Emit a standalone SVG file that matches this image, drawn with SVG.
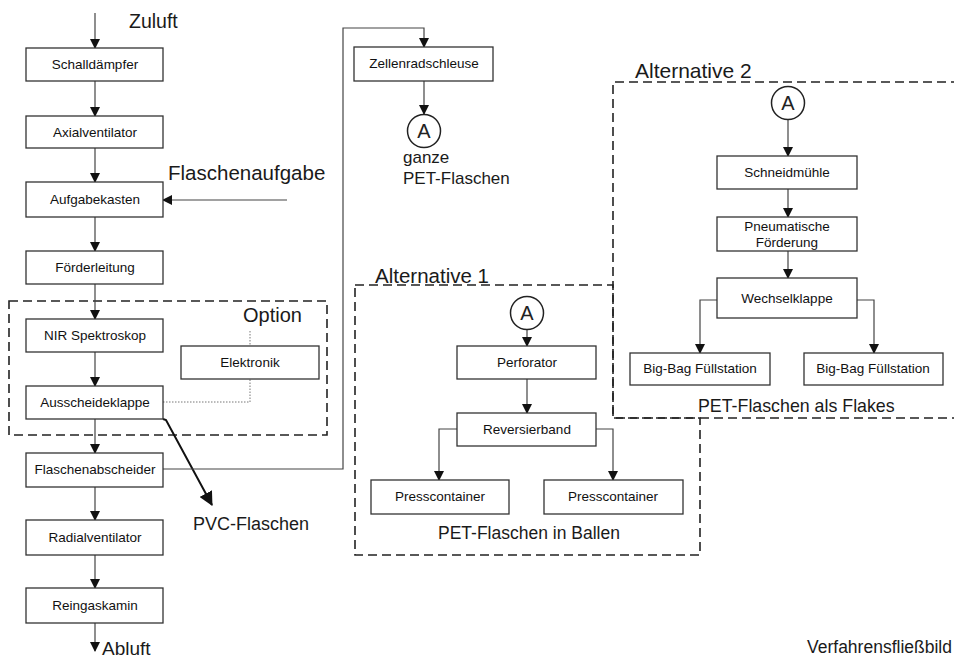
<svg xmlns="http://www.w3.org/2000/svg" width="954" height="659" viewBox="0 0 954 659">
<style>
.box{fill:#fff;stroke:#333;stroke-width:1.3}
.bt{font-family:"Liberation Sans",Arial,sans-serif;font-size:13.5px;fill:#111;text-anchor:middle}
.lbl{font-family:"Liberation Sans",Arial,sans-serif;font-size:18px;fill:#1a1a1a}
.ln{fill:none;stroke:#444;stroke-width:1.2}
.dash{fill:none;stroke:#222;stroke-width:1.6;stroke-dasharray:9,5}
.dot{fill:none;stroke:#777;stroke-width:1;stroke-dasharray:1.5,1.5}
.circ{fill:#fff;stroke:#222;stroke-width:1.5}
.ct{font-family:"Liberation Sans",Arial,sans-serif;font-size:20px;fill:#222;text-anchor:middle}
</style>
<defs>
<marker id="ah" markerWidth="10" markerHeight="10" refX="9" refY="5" orient="auto" markerUnits="userSpaceOnUse">
<path d="M0,0 L10,5 L0,10 z" fill="#111"/>
</marker>
<marker id="ahb" markerWidth="14" markerHeight="14" refX="13" refY="7" orient="auto" markerUnits="userSpaceOnUse">
<path d="M0,0 L14,7 L0,14 z" fill="#111"/>
</marker>
</defs>
<rect width="954" height="659" fill="#fff"/>

<g id="groups">
<rect class="dash" x="9" y="301" width="318" height="134"/>
<path class="dash" d="M355,285 L613,285 L613,418 L700,418 L700,555 L355,555 Z"/>
<path class="dash" d="M960,82 L613,82 L613,418 L960,418"/>
</g>

<g id="connectors">
<line class="ln" x1="95" y1="13" x2="95" y2="48" marker-end="url(#ah)"/>
<line class="ln" x1="95" y1="81" x2="95" y2="116" marker-end="url(#ah)"/>
<line class="ln" x1="95" y1="148" x2="95" y2="182" marker-end="url(#ah)"/>
<line class="ln" x1="287" y1="200" x2="163" y2="200" marker-end="url(#ah)"/>
<line class="ln" x1="95" y1="217" x2="95" y2="251" marker-end="url(#ah)"/>
<line class="ln" x1="95" y1="284" x2="95" y2="319" marker-end="url(#ah)"/>
<line class="ln" x1="95" y1="352" x2="95" y2="386" marker-end="url(#ah)"/>
<line class="ln" x1="95" y1="419" x2="95" y2="453" marker-end="url(#ah)"/>
<line class="ln" x1="95" y1="487" x2="95" y2="520" marker-end="url(#ah)"/>
<line class="ln" x1="95" y1="555" x2="95" y2="588" marker-end="url(#ah)"/>
<line class="ln" x1="95" y1="623" x2="95" y2="651" marker-end="url(#ah)"/>
<path d="M163,419 L166,420 L212,505" fill="none" stroke="#111" stroke-width="2" marker-end="url(#ahb)"/>
<path class="dot" d="M163,402 L250,402 L250,379"/>
<path class="dot" d="M250,331 L250,346"/>
<path class="ln" d="M163,469 L343,469 L343,28 L424,28 L424,47" marker-end="url(#ah)"/>
<line class="ln" x1="424" y1="81" x2="424" y2="114" marker-end="url(#ah)"/>
<line class="ln" x1="527" y1="330" x2="527" y2="346" marker-end="url(#ah)"/>
<line class="ln" x1="527" y1="379" x2="527" y2="413" marker-end="url(#ah)"/>
<path class="ln" d="M457,429 L439,429 L439,480" marker-end="url(#ah)"/>
<path class="ln" d="M596,429 L613,429 L613,480" marker-end="url(#ah)"/>
<line class="ln" x1="788" y1="120" x2="788" y2="156" marker-end="url(#ah)"/>
<line class="ln" x1="788" y1="189" x2="788" y2="217" marker-end="url(#ah)"/>
<line class="ln" x1="788" y1="251" x2="788" y2="278" marker-end="url(#ah)"/>
<path class="ln" d="M717,300 L700,300 L700,353" marker-end="url(#ah)"/>
<path class="ln" d="M857,300 L874,300 L874,353" marker-end="url(#ah)"/>
</g>

<g id="n-schalldaempfer"><rect class="box" x="26" y="48" width="137" height="33"/><text class="bt" x="95" y="69">Schalldämpfer</text></g>
<g id="n-axialventilator"><rect class="box" x="26" y="116" width="137" height="32"/><text class="bt" x="95" y="137">Axialventilator</text></g>
<g id="n-aufgabekasten"><rect class="box" x="26" y="182" width="137" height="35"/><text class="bt" x="95" y="204">Aufgabekasten</text></g>
<g id="n-foerderleitung"><rect class="box" x="26" y="251" width="137" height="33"/><text class="bt" x="95" y="272">Förderleitung</text></g>
<g id="n-nir"><rect class="box" x="26" y="319" width="137" height="33"/><text class="bt" x="95" y="340">NIR Spektroskop</text></g>
<g id="n-elektronik"><rect class="box" x="181" y="346" width="138" height="33"/><text class="bt" x="250" y="367">Elektronik</text></g>
<g id="n-ausscheideklappe"><rect class="box" x="26" y="386" width="137" height="33"/><text class="bt" x="95" y="407">Ausscheideklappe</text></g>
<g id="n-flaschenabscheider"><rect class="box" x="26" y="453" width="137" height="34"/><text class="bt" x="95" y="474">Flaschenabscheider</text></g>
<g id="n-radialventilator"><rect class="box" x="26" y="520" width="137" height="35"/><text class="bt" x="95" y="542">Radialventilator</text></g>
<g id="n-reingaskamin"><rect class="box" x="26" y="588" width="137" height="35"/><text class="bt" x="95" y="610">Reingaskamin</text></g>

<g id="n-zellenradschleuse"><rect class="box" x="354" y="47" width="139" height="34"/><text class="bt" x="424" y="68">Zellenradschleuse</text></g>
<g id="n-a0"><circle class="circ" cx="424" cy="131" r="16.5"/><text class="ct" x="424" y="138">A</text></g>

<g id="n-a1"><circle class="circ" cx="527" cy="313" r="16.5"/><text class="ct" x="527" y="320">A</text></g>
<g id="n-perforator"><rect class="box" x="457" y="346" width="139" height="33"/><text class="bt" x="527" y="367">Perforator</text></g>
<g id="n-reversierband"><rect class="box" x="457" y="413" width="139" height="33"/><text class="bt" x="527" y="434">Reversierband</text></g>
<g id="n-presscontainer1"><rect class="box" x="371" y="480" width="138" height="34"/><text class="bt" x="440" y="501">Presscontainer</text></g>
<g id="n-presscontainer2"><rect class="box" x="544" y="480" width="139" height="34"/><text class="bt" x="613" y="501">Presscontainer</text></g>

<g id="n-a2"><circle class="circ" cx="788" cy="103" r="16.5"/><text class="ct" x="788" y="110">A</text></g>
<g id="n-schneidmuehle"><rect class="box" x="717" y="156" width="140" height="33"/><text class="bt" x="787" y="177">Schneidmühle</text></g>
<g id="n-pneumatische"><rect class="box" x="717" y="217" width="140" height="34"/><text class="bt" x="787" y="231">Pneumatische</text><text class="bt" x="787" y="247">Förderung</text></g>
<g id="n-wechselklappe"><rect class="box" x="717" y="278" width="140" height="40"/><text class="bt" x="787" y="303">Wechselklappe</text></g>
<g id="n-bigbag1"><rect class="box" x="630" y="353" width="140" height="32"/><text class="bt" x="700" y="373">Big-Bag Füllstation</text></g>
<g id="n-bigbag2"><rect class="box" x="804" y="353" width="139" height="32"/><text class="bt" x="873" y="373">Big-Bag Füllstation</text></g>

<g id="labels">
<text class="lbl" x="129" y="28" style="font-size:19.5px">Zuluft</text>
<text class="lbl" x="168" y="180" style="font-size:20.5px">Flaschenaufgabe</text>
<text class="lbl" x="243" y="322" style="font-size:20px">Option</text>
<text class="lbl" x="193" y="530">PVC-Flaschen</text>
<text class="lbl" x="102" y="655" style="font-size:19px">Abluft</text>
<text class="lbl" x="403" y="163" style="font-size:17px">ganze</text>
<text class="lbl" x="403" y="184" style="font-size:17px">PET-Flaschen</text>
<text class="lbl" x="375" y="283" style="font-size:20.5px">Alternative 1</text>
<text class="lbl" x="635" y="78" style="font-size:21px">Alternative 2</text>
<text class="lbl" x="438" y="539" style="font-size:17.5px">PET-Flaschen in Ballen</text>
<text class="lbl" x="698" y="412" style="font-size:17.8px">PET-Flaschen als Flakes</text>
<text class="lbl" x="807" y="653" style="font-size:17.5px">Verfahrensfließbild</text>
</g>
</svg>
